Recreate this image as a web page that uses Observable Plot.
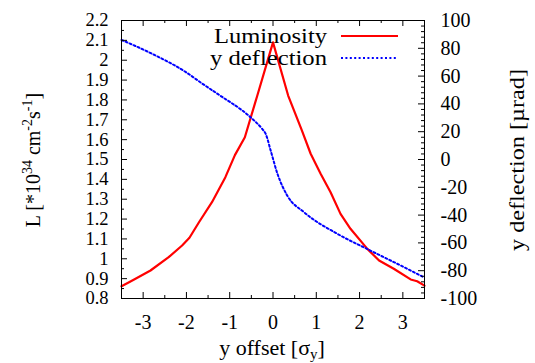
<!DOCTYPE html>
<html><head><meta charset="utf-8">
<script src="https://cdn.jsdelivr.net/npm/d3@7"></script>
<script src="https://cdn.jsdelivr.net/npm/@observablehq/plot@0.6"></script>
<style>
body{margin:0;background:#fff}
svg{display:block}
svg, svg text {font-family: "Liberation Serif", "Times New Roman", Times, "DejaVu Serif", serif !important;}
</style>
</head><body><div id="chart"></div>
<script>
// ---- data ----
const xTicks = [-3, -2, -1, 0, 1, 2, 3];
const xMinorTicks = [-2.5, -1.5, -0.5, 0.5, 1.5, 2.5];
const lTicks = [0.8, 0.9, 1, 1.1, 1.2, 1.3, 1.4, 1.5, 1.6, 1.7, 1.8, 1.9, 2, 2.1, 2.2];
const lMinorTicks = [0.85, 0.95, 1.05, 1.15, 1.25, 1.35, 1.45, 1.55, 1.65, 1.75, 1.85, 1.95, 2.05, 2.15];
const dTicks = [-100, -80, -60, -40, -20, 0, 20, 40, 60, 80, 100];
const dMinorTicks = [-96,-92,-88,-84,-76,-72,-68,-64,-56,-52,-48,-44,-36,-32,-28,-24,-16,-12,-8,-4,4,8,12,16,24,28,32,36,44,48,52,56,64,68,72,76,84,88,92,96];

const lumOffset = [-3.5, -3.25, -2.83, -2.41, -2.10, -1.93, -1.71, -1.41, -1.10, -0.88, -0.65, -0.35, 0, 0.35, 0.66, 0.87, 1.10, 1.33, 1.56, 1.79, 2.18, 2.45, 2.79, 3.18, 3.33, 3.5];
const lumValue  = [0.862, 0.891, 0.941, 1.008, 1.067, 1.106, 1.184, 1.285, 1.411, 1.522, 1.612, 1.831, 2.090, 1.822, 1.650, 1.529, 1.428, 1.335, 1.226, 1.151, 1.050, 0.991, 0.950, 0.896, 0.887, 0.865];

const deflOffset = [-3.5, -2.79, -2.02, -1.63, -1.27, -0.56, -0.40, -0.25, -0.17, -0.05, 0.10, 0.33, 0.72, 1.49, 2.25, 3.03, 3.5];
const deflValue  = [86, 76, 63, 54.5, 47, 31.5, 27, 22, 18.5, 6, -10, -26, -38, -53.5, -65.5, -77.5, -85];

// ---- mapping of right axis (deflection) onto left scale (luminosity) ----
const lDomain = [0.8, 2.2], dDomain = [-100, 100];
const toL = d => lDomain[0] + (d - dDomain[0]) * (lDomain[1] - lDomain[0]) / (dDomain[1] - dDomain[0]);
const toD = l => dDomain[0] + (l - lDomain[0]) * (dDomain[1] - dDomain[0]) / (lDomain[1] - lDomain[0]);

const lum = lumOffset.map((x, i) => ({x, y: lumValue[i]}));
const defl = deflOffset.map((x, i) => ({x, y: toL(deflValue[i])}));

const W = 535, H = 363, mL = 121, mR = 111, mT = 20, mB = 65;
const iW = W - mL - mR, iH = H - mT - mB;
const FONT = "Liberation Serif, Times New Roman, serif";

const plot = Plot.plot({
  width: W, height: H,
  marginLeft: mL, marginRight: mR, marginTop: mT, marginBottom: mB,
  style: {fontFamily: FONT, fontSize: "20px", background: "white", color: "black"},
  x: {domain: [-3.5, 3.5]},
  y: {domain: lDomain},
  marks: [
    Plot.line(lum, {x: "x", y: "y", stroke: "#ff0000", strokeWidth: 2.2}),
    Plot.line(defl, {x: "x", y: "y", stroke: "#0000ff", strokeWidth: 2, strokeDasharray: "2,2.4", curve: "monotone-x"}),
    Plot.frame({stroke: "black", strokeWidth: 1}),
    // inward ticks
    Plot.tickX(xTicks, {x: d => d, insetTop: iH - 6, stroke: "black"}),
    Plot.tickX(xTicks, {x: d => d, insetBottom: iH - 6, stroke: "black"}),
    Plot.tickX(xMinorTicks, {x: d => d, insetTop: iH - 3, stroke: "black"}),
    Plot.tickX(xMinorTicks, {x: d => d, insetBottom: iH - 3, stroke: "black"}),
    Plot.tickY(lTicks, {y: d => d, insetRight: iW - 6, stroke: "black"}),
    Plot.tickY(lMinorTicks, {y: d => d, insetRight: iW - 3, stroke: "black"}),
    Plot.tickY(dTicks.map(toL), {y: d => d, insetLeft: iW - 6, stroke: "black"}),
    Plot.tickY(dMinorTicks.map(toL), {y: d => d, insetLeft: iW - 3, stroke: "black"}),
    // tick labels
    Plot.axisX(xTicks, {tickSize: 0, tickPadding: 16, tickFormat: d => String(d), label: null}),
    Plot.axisY(lTicks, {anchor: "left", tickSize: 0, tickPadding: 13, fontSize: 18.5, tickFormat: d => String(d), label: null}),
    Plot.axisY(dTicks.map(toL), {anchor: "right", tickSize: 0, tickPadding: 16, textAnchor: "start",
      tickFormat: v => String(Math.round(toD(v))), label: null})
  ]
});

const svg = d3.select(plot);
// axis titles
const lt = svg.append("text").attr("transform", "translate(40,160) rotate(-90)")
  .attr("text-anchor", "middle").attr("font-size", 20).attr("fill", "black");
lt.append("tspan").text("L [*10");
lt.append("tspan").attr("dy", -8).attr("font-size", 14).text("34");
lt.append("tspan").attr("dy", 8).text(" cm");
lt.append("tspan").attr("dy", -8).attr("font-size", 14).text("-2");
lt.append("tspan").attr("dy", 8).text("s");
lt.append("tspan").attr("dy", -8).attr("font-size", 14).text("-1");
lt.append("tspan").attr("dy", 8).text("]");

svg.append("text").attr("transform", "translate(524,160) rotate(-90)")
  .attr("text-anchor", "middle").attr("font-size", 20).attr("fill", "black")
  .attr("textLength", 182).attr("lengthAdjust", "spacingAndGlyphs")
  .text("y deflection [µrad]");

const bt = svg.append("text").attr("x", 272).attr("y", 355)
  .attr("text-anchor", "middle").attr("font-size", 22).attr("fill", "black");
bt.append("tspan").text("y offset [σ");
bt.append("tspan").attr("dy", 4).attr("font-size", 15).text("y");
bt.append("tspan").attr("dy", -4).text("]");

// legend
const legend = [
  {label: "Luminosity", color: "#ff0000", dash: null, y: 36, len: 113},
  {label: "y deflection", color: "#0000ff", dash: "2,2.4", y: 58, len: 117}
];
legend.forEach(e => {
  svg.append("text").attr("x", 327).attr("y", e.y + 7).attr("text-anchor", "end")
    .attr("font-size", 20).attr("fill", "black")
    .attr("textLength", e.len).attr("lengthAdjust", "spacingAndGlyphs").text(e.label);
  svg.append("line").attr("x1", 341).attr("x2", 398).attr("y1", e.y).attr("y2", e.y)
    .attr("stroke", e.color).attr("stroke-width", 2).attr("stroke-dasharray", e.dash);
});

document.getElementById("chart").appendChild(plot);
</script>
</body></html>
